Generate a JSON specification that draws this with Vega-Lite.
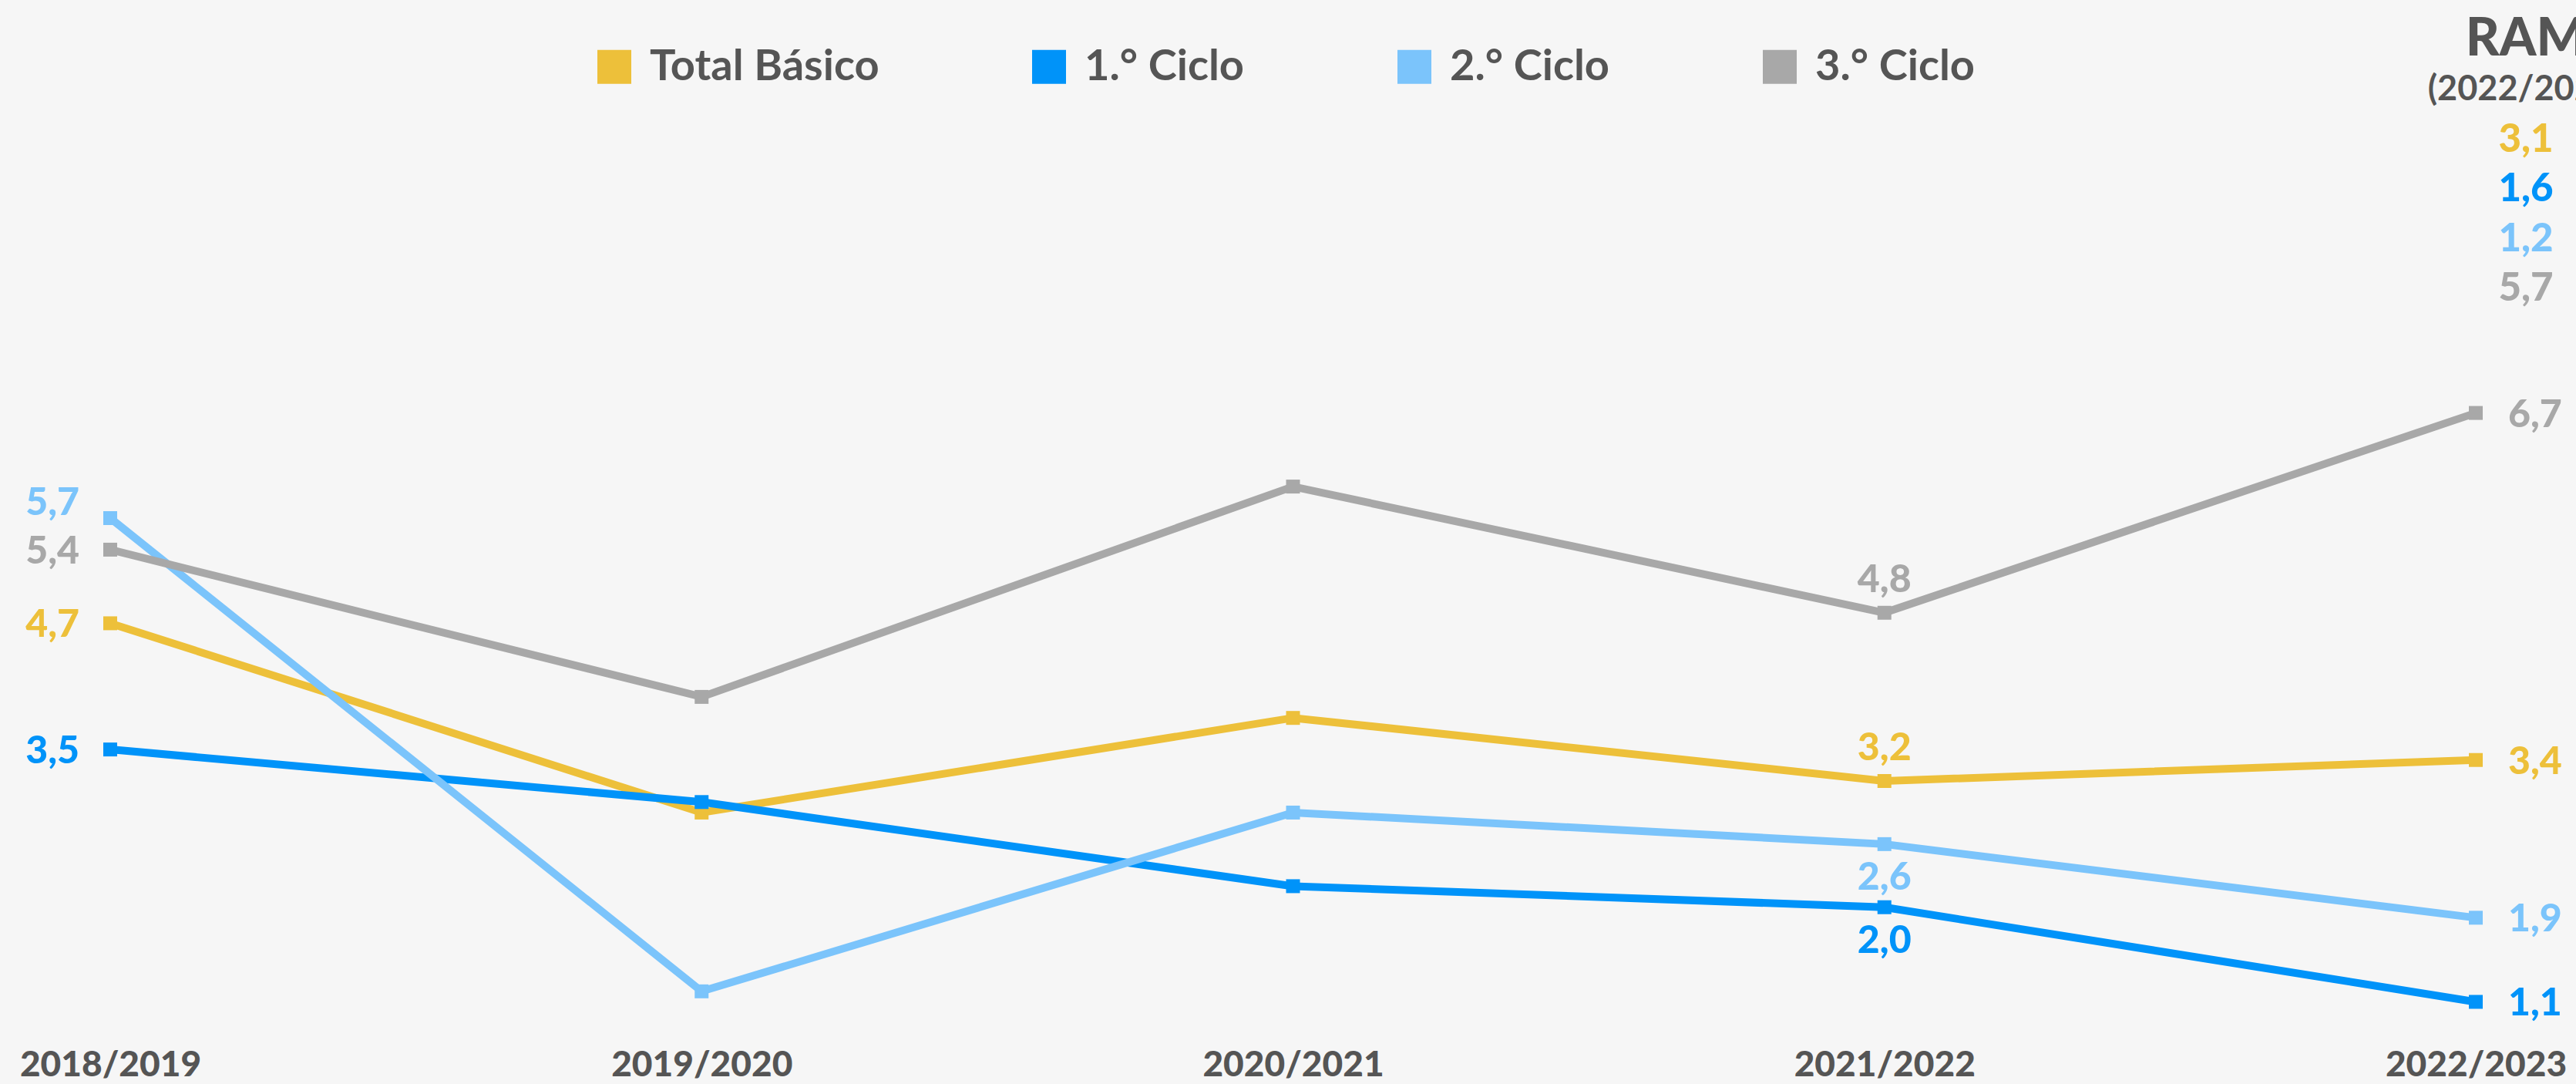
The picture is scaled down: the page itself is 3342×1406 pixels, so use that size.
{
  "$schema": "https://vega.github.io/schema/vega-lite/v6.json",
  "width": 3069,
  "height": 818.4,
  "autosize": {"type": "none"},
  "padding": {"left": 143, "top": 494.7, "right": 130, "bottom": 92.9},
  "background": "#F6F6F6",
  "config": {
    "view": {"stroke": null},
    "font": "Lato",
    "locale": {"number": {"decimal": ",", "thousands": ".", "grouping": [3], "currency": ["", " €"]}}
  },
  "title": {
    "text": "RAM",
    "subtitle": "(2022/2023)",
    "anchor": "end",
    "frame": "group",
    "align": "center",
    "dx": 65,
    "offset": -80,
    "font": "Lato",
    "fontSize": 68,
    "fontWeight": 900,
    "color": "#555555",
    "subtitleFont": "Lato",
    "subtitleFontSize": 45,
    "subtitleFontWeight": "bold",
    "subtitleColor": "#555555",
    "subtitlePadding": 8
  },
  "datasets": {
    "serie": [
      {"ano": "2018/2019", "serie": "Total Básico", "valor": 4.7},
      {"ano": "2018/2019", "serie": "1.° Ciclo", "valor": 3.5},
      {"ano": "2018/2019", "serie": "2.° Ciclo", "valor": 5.7},
      {"ano": "2018/2019", "serie": "3.° Ciclo", "valor": 5.4},
      {"ano": "2019/2020", "serie": "Total Básico", "valor": 2.9},
      {"ano": "2019/2020", "serie": "1.° Ciclo", "valor": 3.0},
      {"ano": "2019/2020", "serie": "2.° Ciclo", "valor": 1.2},
      {"ano": "2019/2020", "serie": "3.° Ciclo", "valor": 4.0},
      {"ano": "2020/2021", "serie": "Total Básico", "valor": 3.8},
      {"ano": "2020/2021", "serie": "1.° Ciclo", "valor": 2.2},
      {"ano": "2020/2021", "serie": "2.° Ciclo", "valor": 2.9},
      {"ano": "2020/2021", "serie": "3.° Ciclo", "valor": 6.0},
      {"ano": "2021/2022", "serie": "Total Básico", "valor": 3.2},
      {"ano": "2021/2022", "serie": "1.° Ciclo", "valor": 2.0},
      {"ano": "2021/2022", "serie": "2.° Ciclo", "valor": 2.6},
      {"ano": "2021/2022", "serie": "3.° Ciclo", "valor": 4.8},
      {"ano": "2022/2023", "serie": "Total Básico", "valor": 3.4},
      {"ano": "2022/2023", "serie": "1.° Ciclo", "valor": 1.1},
      {"ano": "2022/2023", "serie": "2.° Ciclo", "valor": 1.9},
      {"ano": "2022/2023", "serie": "3.° Ciclo", "valor": 6.7}
    ],
    "ram": [
      {"serie": "Total Básico", "valor": 3.1, "ordem": 1},
      {"serie": "1.° Ciclo", "valor": 1.6, "ordem": 2},
      {"serie": "2.° Ciclo", "valor": 1.2, "ordem": 3},
      {"serie": "3.° Ciclo", "valor": 5.7, "ordem": 4}
    ]
  },
  "resolve": {"scale": {"y": "independent"}},
  "layer": [
    {
      "data": {"name": "serie"},
      "encoding": {
        "x": {"field": "ano", "type": "ordinal", "scale": {"type": "point", "padding": 0},
              "axis": {"title": null, "orient": "bottom", "domain": false, "ticks": false, "tickSize": 0, "grid": false,
                       "labelAngle": 0, "labelPadding": 46, "labelFont": "Lato", "labelFontSize": 46, "labelFontWeight": 900,
                       "labelColor": "#555555", "labelFlush": false, "labelLimit": 0, "labelOverlap": false}},
        "y": {"field": "valor", "type": "quantitative", "scale": {"domain": [1, 7], "nice": false, "zero": false}, "axis": null},
        "color": {"field": "serie", "type": "nominal",
                  "scale": {"domain": ["Total Básico", "1.° Ciclo", "2.° Ciclo", "3.° Ciclo"],
                            "range": ["#EDC03A", "#0093F9", "#7BC4FB", "#A8A8A8"]},
                  "legend": {"orient": "none", "legendX": 626, "legendY": -436, "direction": "horizontal", "title": null, "symbolType": "square",
                             "symbolSize": 1936, "symbolStrokeWidth": 0, "labelFont": "Lato", "labelFontSize": 56,
                             "labelFontWeight": "bold", "labelColor": "#555555", "labelOffset": 18, "columnPadding": 192,
                             "labelLimit": 0,
                             "encode": {"symbols": {"update": {"fill": {"scale": "color", "field": "value"}, "fillOpacity": {"value": 1}, "opacity": {"value": 1}}}}}}
      },
      "layer": [
        {"mark": {"type": "line", "strokeWidth": 10}},
        {"mark": {"type": "point", "shape": "square", "filled": true, "size": 324, "opacity": 1}},
        {
          "transform": [{"filter": "datum.ano == '2018/2019' && datum.serie != '2.° Ciclo'"}],
          "mark": {"type": "text", "align": "right", "baseline": "middle", "dx": -40, "dy": 3, "fontSize": 50, "fontWeight": 900, "font": "Lato"},
          "encoding": {"text": {"field": "valor", "type": "quantitative", "format": ".1f"}}
        },
        {
          "transform": [{"filter": "datum.ano == '2018/2019' && datum.serie == '2.° Ciclo'"}],
          "mark": {"type": "text", "align": "right", "baseline": "middle", "dx": -40, "dy": -19, "fontSize": 50, "fontWeight": 900, "font": "Lato"},
          "encoding": {"text": {"field": "valor", "type": "quantitative", "format": ".1f"}}
        },
        {
          "transform": [{"filter": "datum.ano == '2021/2022' && (datum.serie == 'Total Básico' || datum.serie == '3.° Ciclo')"}],
          "mark": {"type": "text", "align": "center", "baseline": "alphabetic", "dy": -27, "fontSize": 50, "fontWeight": 900, "font": "Lato"},
          "encoding": {"text": {"field": "valor", "type": "quantitative", "format": ".1f"}}
        },
        {
          "transform": [{"filter": "datum.ano == '2021/2022' && (datum.serie == '1.° Ciclo' || datum.serie == '2.° Ciclo')"}],
          "mark": {"type": "text", "align": "center", "baseline": "top", "dy": 19, "fontSize": 50, "fontWeight": 900, "font": "Lato"},
          "encoding": {"text": {"field": "valor", "type": "quantitative", "format": ".1f"}}
        },
        {
          "transform": [{"filter": "datum.ano == '2022/2023'"}],
          "mark": {"type": "text", "align": "left", "baseline": "middle", "dx": 42, "dy": 3, "fontSize": 50, "fontWeight": 900, "font": "Lato"},
          "encoding": {"text": {"field": "valor", "type": "quantitative", "format": ".1f"}}
        }
      ]
    },
    {
      "data": {"name": "ram"},
      "mark": {"type": "text", "align": "center", "baseline": "alphabetic", "dx": 65, "fontSize": 51, "fontWeight": 900, "font": "Lato"},
      "encoding": {
        "x": {"datum": "2022/2023"},
        "y": {"field": "ordem", "type": "quantitative", "scale": {"domain": [5.63, 18.36], "reverse": true, "nice": false, "zero": false}, "axis": null},
        "fill": {"field": "serie", "type": "nominal",
                 "scale": {"domain": ["Total Básico", "1.° Ciclo", "2.° Ciclo", "3.° Ciclo"],
                           "range": ["#EDC03A", "#0093F9", "#7BC4FB", "#A8A8A8"]},
                 "legend": null},
        "text": {"field": "valor", "type": "quantitative", "format": ".1f"}
      }
    }
  ]
}
